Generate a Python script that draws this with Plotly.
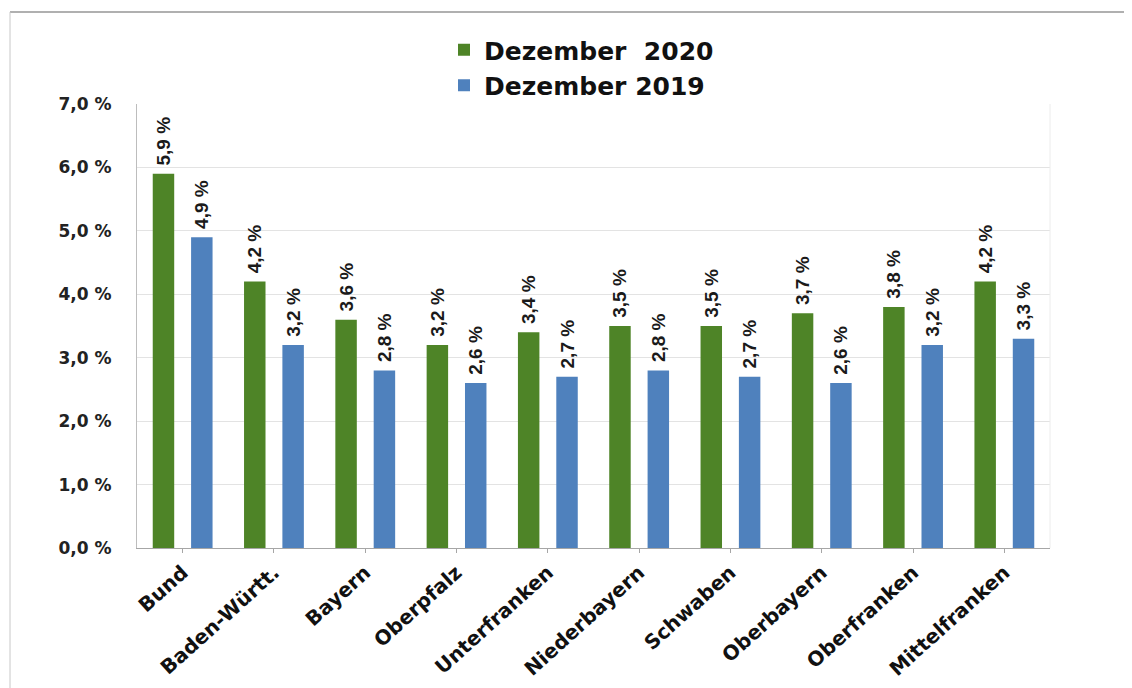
import plotly.graph_objects as go

categories = ["Bund", "Baden-Württ.", "Bayern", "Oberpfalz", "Unterfranken",
              "Niederbayern", "Schwaben", "Oberbayern", "Oberfranken", "Mittelfranken"]
values_2020 = [5.9, 4.2, 3.6, 3.2, 3.4, 3.5, 3.5, 3.7, 3.8, 4.2]
values_2019 = [4.9, 3.2, 2.8, 2.6, 2.7, 2.8, 2.7, 2.6, 3.2, 3.3]
series_names = ["Dezember  2020", "Dezember 2019"]
y_tick_vals = [0, 1, 2, 3, 4, 5, 6, 7]
y_tick_text = ["0,0 %", "1,0 %", "2,0 %", "3,0 %", "4,0 %", "5,0 %", "6,0 %", "7,0 %"]


def fmt(v):
    # leading no-break space keeps a small gap between bar top and label
    return "\u00a0" + f"{v:.1f}".replace(".", ",") + " %"


WIDE = "DejaVu Sans, Verdana, sans-serif"
NARROW = "Liberation Sans, Arial, sans-serif"
GREEN = "#4E8427"
BLUE = "#4F81BD"

fig = go.Figure()
for name, vals, col in [(series_names[0], values_2020, GREEN), (series_names[1], values_2019, BLUE)]:
    fig.add_trace(go.Bar(
        x=categories, y=vals, name=name,
        marker=dict(color=col, line=dict(width=0)),
        text=[fmt(v) for v in vals], textposition="outside", textangle=-90,
        constraintext="none",
        textfont=dict(family=NARROW, size=19, color="#1a1a1a", weight="bold"),
        cliponaxis=False,
    ))

# page body has an 8px margin: figure pixel = screen pixel - 8
OFF = 8
W, H = 1132 - OFF, 688 - OFF
L, T = 137 - OFF, 104 - OFF
R = W - (1050 - OFF)
B = H - (548 - OFF)
pw, ph = W - L - R, H - T - B


def px_x(p):
    return (p - OFF - L) / pw


def px_y(p):
    return (H - B - (p - OFF)) / ph


fig.update_layout(
    width=W, height=H,
    margin=dict(l=L, r=R, t=T, b=B, autoexpand=False),
    paper_bgcolor="white", plot_bgcolor="white",
    barmode="group", bargap=0.16, bargroupgap=0.44,
    font=dict(family=WIDE, color="#1a1a1a"),
    legend=dict(
        x=px_x(444), y=px_y(27), xanchor="left", yanchor="top",
        font=dict(family=WIDE, size=25, color="#111111", weight="bold"),
        bgcolor="rgba(0,0,0,0)", itemwidth=30,
    ),
    xaxis=dict(
        type="category", showgrid=False,
        showline=True, linecolor="#a6a6a6", linewidth=1, mirror=False,
        ticks="outside", ticklen=4, tickcolor="#a6a6a6",
        tickangle=-42,
        tickfont=dict(family=WIDE, size=20, color="#111111", weight="bold"),
    ),
    yaxis=dict(
        range=[0, 7], tickvals=y_tick_vals, ticktext=y_tick_text,
        showgrid=True, gridcolor="#e3e3e3", gridwidth=1,
        showline=True, linecolor="#bdbdbd", linewidth=1,
        zeroline=False, ticks="", ticklabelstandoff=21,
        tickfont=dict(family=WIDE, size=17, color="#222222", weight="bold"),
    ),
    shapes=[
        dict(type="line", xref="paper", yref="paper",
             x0=px_x(10), x1=px_x(1140), y0=px_y(12), y1=px_y(12),
             line=dict(color="#b0b0b0", width=2)),
        dict(type="line", xref="paper", yref="paper",
             x0=px_x(10), x1=px_x(10), y0=px_y(12), y1=px_y(700),
             line=dict(color="#c8c8c8", width=1)),
        dict(type="line", xref="paper", yref="paper",
             x0=1, x1=1, y0=0, y1=1,
             line=dict(color="#ececec", width=1)),
    ],
)

fig.write_html("out.html")
